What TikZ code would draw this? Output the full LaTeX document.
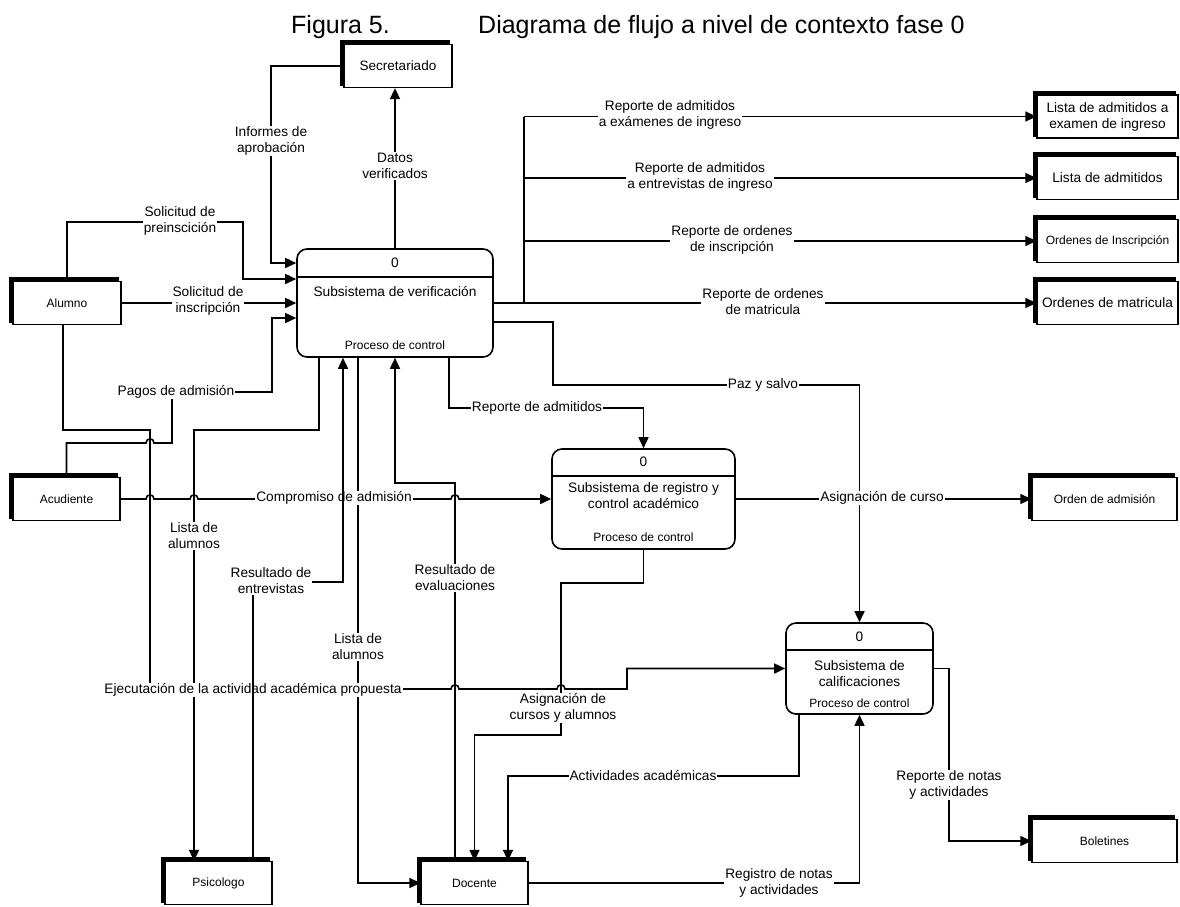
\documentclass[tikz,border=0pt]{standalone}
\usepackage{fontspec}
\setmainfont{Liberation Sans}
\usetikzlibrary{arrows.meta}
\newcommand\lblfont{\fontsize{13.7}{16}\selectfont}
\newcommand\smfont{\fontsize{12}{14}\selectfont}
\newcommand\ttlfont{\fontsize{25}{30}\selectfont}
\begin{document}
\begin{tikzpicture}[x=1pt,y=-1pt,
  conn/.style={line width=1.6pt, line join=miter},
  flow/.style={conn, -{Triangle[length=11pt,width=10pt]}},
  ext/.style={draw, line width=1.3pt, inner sep=0pt, minimum height=43pt, align=center, font=\smfont},
  proc/.style={draw, line width=1.6pt, rounded corners=10pt, inner sep=0pt},
  lbl/.style={fill=white, inner sep=1pt, align=center, font=\lblfont},
  ptxt/.style={inner sep=0pt, align=center, font=\lblfont},
  psub/.style={inner sep=0pt, font=\smfont}]
\useasboundingbox (0,0) rectangle (1180,906);

% title
\node[anchor=base west, font=\ttlfont, inner sep=0pt] (t1) at (291,33) {Figura 5.};
\node[anchor=base west, font=\ttlfont, inner sep=0pt] (t2) at (478,33) {Diagrama de flujo a nivel de contexto fase 0};

% processes
\node[proc, minimum width=196pt, minimum height=108pt] (p1) at (395,303) {};
\node[proc, minimum width=183pt, minimum height=100pt] (p2) at (643.5,499) {};
\node[proc, minimum width=147pt, minimum height=91pt] (p3) at (859.5,668.5) {};
\draw[conn] (p1.west |- 0,277) -- (p1.east |- 0,277);
\draw[conn] (p2.west |- 0,476) -- (p2.east |- 0,476);
\draw[conn] (p3.west |- 0,650) -- (p3.east |- 0,650);
\node[ptxt] (p1num) at (395,263) {0};
\node[ptxt] (p1name) at (395,292) {Subsistema de verificación};
\node[psub] (p1sub) at (395,345) {Proceso de control};
\node[ptxt] (p2num) at (643.5,462) {0};
\node[ptxt] (p2name) at (643.5,496) {Subsistema de registro y\\control académico};
\node[psub] (p2sub) at (643.5,537) {Proceso de control};
\node[ptxt] (p3num) at (859.5,637) {0};
\node[ptxt] (p3name) at (859.5,674) {Subsistema de\\calificaciones};
\node[psub] (p3sub) at (859.5,703) {Proceso de control};

% external entities and stores
\node[ext, minimum width=108pt, font=\fontsize{13.5}{16}\selectfont] (secre) at (398,66) {Secretariado};
\node[ext, minimum width=108pt] (alumno) at (67,303) {Alumno};
\node[ext, minimum width=107pt] (acud) at (66.5,499) {Acudiente};
\node[ext, minimum width=107pt] (psico) at (218.5,883) {Psicologo};
\node[ext, minimum width=107pt] (docente) at (474.5,883) {Docente};
\node[ext, minimum width=141pt, font=\lblfont] (st1) at (1107.5,116.5) {Lista de admitidos a\\examen de ingreso};
\node[ext, minimum width=141pt, font=\lblfont] (st2) at (1107.5,178) {Lista de admitidos};
\node[ext, minimum width=141pt] (st3) at (1107.5,241) {Ordenes de Inscripción};
\node[ext, minimum width=141pt, font=\lblfont] (st4) at (1107.5,303) {Ordenes de matricula};
\node[ext, minimum width=145pt] (ordadm) at (1104.5,499) {Orden de admisión};
\node[ext, minimum width=145pt] (bolet) at (1104.5,841) {Boletines};
\foreach \n in {secre,alumno,acud,psico,docente,st1,st2,st3,st4,ordadm,bolet}
  \draw[line width=3.8pt, line join=miter]
    ([xshift=-1.6pt,yshift=2pt]\n.south west) |- ([xshift=-3pt,yshift=1.6pt]\n.north east);

% flows around the verification subsystem
\draw[flow] (secre.west) -| (271,263) -- (p1.west |- 0,263);
\draw[flow] (p1.north) -- (p1.north |- secre.south);
\draw[flow] (alumno.north) |- (243,222) |- (p1.west |- 0,279);
\draw[flow] (alumno.east) -- (p1.west);
\draw[flow] (acud.north) |- (146,443) .. controls (146,437.5) and (154,437.5) .. (154,443)
  -- (172,443) |- (272,392) |- (p1.west |- 0,318);
\draw[flow] (alumno.south -| 63,0) |- (150,430) |- (451,689)
  .. controls (451,683.5) and (459,683.5) .. (459,689) -- (557,689)
  .. controls (557,683.5) and (565,683.5) .. (565,689) -| (627,668.5) -- (p3.west);
\draw[flow] (acud.east) -- (146,499) .. controls (146,493.5) and (154,493.5) .. (154,499)
  -- (190,499) .. controls (190,493.5) and (198,493.5) .. (198,499)
  -- (451,499) .. controls (451,493.5) and (459,493.5) .. (459,499) -- (p2.west);
\draw[flow] (p1.south -| 319,0) |- (194,430) -- (psico.north -| 194,0);
\draw[flow] (p1.south -| 358,0) |- (docente.west);
\draw[flow] (docente.north -| 455,0) |- (395,483) -- (p1.south);
\draw[flow] (p1.south -| 449,0) |- (p2.north |- 0,408) -- (p2.north);

% report flows to the stores
\coordinate (trunk) at (524,303);
\draw[flow] (p1.east) -- (st4.west);
\draw[conn, line width=2.2pt] (p1.east) -- (trunk);
\draw[conn] (trunk) -- (trunk |- st1.west);
\draw[flow] (trunk |- st1.west) -- (st1.west);
\draw[flow] (trunk |- st2.west) -- (st2.west);
\draw[flow] (trunk |- st3.west) -- (st3.west);
\draw[flow] (p1.east |- 0,322) -| (553,385) -| (p3.north);

% flows of the academic subsystems
\draw[flow] (p2.east) -- (ordadm.west);
\draw[flow] (p2.south) |- (561,583) |- (docente.north |- 0,735) -- (docente.north);
\draw[flow] (p3.south -| 799,0) |- (508,776) -- (docente.north -| 508,0);
\draw[flow] (docente.east) -| (p3.south);
\draw[flow] (p3.east) -| (bolet.west -| 949,0) -- (bolet.west);

% flow labels
\node[lbl] (l1) at (271,141) {Informes de\\aprobación};
\node[lbl] (l2) at (395,166) {Datos\\verificados};
\node[lbl] (l3) at (180,221) {Solicitud de\\preinscición};
\node[lbl] (l4) at (208,300.5) {Solicitud de\\inscripción};
\node[lbl] (l5) at (176,392) {Pagos de admisión};
\node[lbl] (l6) at (253,690) {Ejecutación de la actividad académica propuesta};
\node[lbl] (l7) at (334,498) {Compromiso de admisión};
\node[lbl] (l8) at (194,536) {Lista de\\alumnos};
\node[lbl] (l9) at (358,647) {Lista de\\alumnos};
\node[lbl] (l10) at (455,578) {Resultado de\\evaluaciones};
\node[lbl] (l11) at (537,408) {Reporte de admitidos};
\node[lbl] (l12) at (670,115) {Reporte de admitidos\\a exámenes de ingreso};
\node[lbl] (l13) at (700,177) {Reporte de admitidos\\a entrevistas de ingreso};
\node[lbl] (l14) at (732,240) {Reporte de ordenes\\de inscripción};
\node[lbl] (l15) at (763,302) {Reporte de ordenes\\de matricula};
\node[lbl] (l16) at (763,385) {Paz y salvo};
\node[lbl] (l17) at (882,498) {Asignación de curso};
\node[lbl] (l18) at (563,708) {Asignación de\\cursos y alumnos};
\node[lbl] (l19) at (643,776) {Actividades académicas};
\node[lbl] (l20) at (779,883) {Registro de notas\\y actividades};
\node[lbl] (l21) at (949,785) {Reporte de notas\\y actividades};

% interview results, drawn over the labels it crosses
\draw[flow] (psico.north -| 253,0) |- (343,582) -- (p1.south -| 343,0);
\node[lbl] (l22) at (271,581) {Resultado de\\entrevistas};
\end{tikzpicture}
\end{document}
